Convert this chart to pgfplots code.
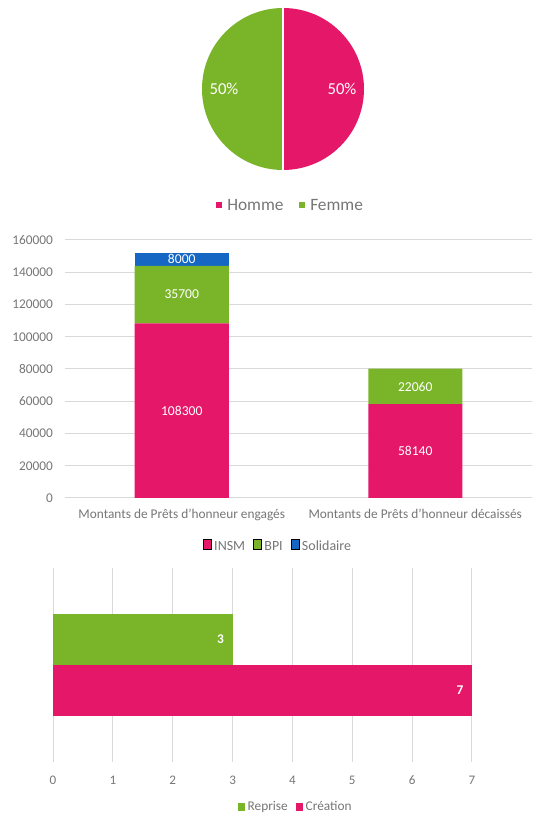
\documentclass[border=0pt]{standalone}
\usepackage{pgfplots}
\pgfplotsset{compat=1.18}
\usepackage{fontspec}
\setmainfont{Carlito}
\definecolor{cpink}{RGB}{228,23,104}
\definecolor{cgreen}{RGB}{122,181,41}
\definecolor{cblue}{RGB}{22,102,196}
\definecolor{ctext}{RGB}{118,118,118}
\definecolor{cgrid}{RGB}{217,217,217}
\tikzset{lab/.style={text=white,font=\fontsize{10.2}{12}\selectfont}}
\pgfplotsset{
  /pgfplots/ybar legend/.style={/pgfplots/legend image code/.code={\fill[##1] (0pt,-2.9pt) rectangle (5.8pt,2.9pt);}},
  /pgfplots/xbar legend/.style={/pgfplots/legend image code/.code={\fill[##1] (0pt,-2.7pt) rectangle (5.4pt,2.7pt);}},
}
\begin{document}
\begin{tikzpicture}[x=0.75pt,y=0.75pt]
\useasboundingbox (0,0) rectangle (533,814);
% ---------------- pie (Homme 50, Femme 50) ----------------
\fill[cpink] (283,725) -- (283,806) arc[start angle=90,end angle=-90,radius=81] -- cycle;
\fill[cgreen] (283,725) -- (283,806) arc[start angle=90,end angle=270,radius=81] -- cycle;
\draw[white,line width=1.2pt] (283,806) -- (283,644);
\node[text=white,font=\fontsize{12.5}{14}\selectfont] at (224,725) {50\%};
\node[text=white,font=\fontsize{12.5}{14}\selectfont] at (342,725) {50\%};
\fill[cpink] (215.5,606) rectangle (221.5,612);
\node[anchor=west,inner sep=0pt,text=ctext,font=\fontsize{13}{15}\selectfont] at (227,609) {Homme};
\fill[cgreen] (298.5,606) rectangle (304.5,612);
\node[anchor=west,inner sep=0pt,text=ctext,font=\fontsize{13}{15}\selectfont] at (310,609) {Femme};
% ---------------- stacked bars ----------------
\begin{axis}[
  at={(48.75pt,237pt)}, anchor=south west,
  scale only axis, width=350.25pt, height=193.5pt,
  ybar stacked, bar width=70.5pt,
  xmin=-0.5, xmax=1.5, ymin=0, ymax=160000,
  xtick={0,1},
  xticklabels={Montants de Prêts d'honneur engagés, Montants de Prêts d'honneur décaissés},
  ytick={0,20000,40000,60000,80000,100000,120000,140000,160000},
  scaled y ticks=false,
  yticklabel style={/pgf/number format/fixed,/pgf/number format/1000 sep={},xshift=-5.5pt},
  xticklabel style={yshift=-4.5pt},
  /pgf/number format/assume math mode=true,
  axis line style={draw=none}, major tick style={draw=none},
  ymajorgrids, grid style={cgrid,line width=0.75pt},
  ticklabel style={font=\fontsize{10}{12}\selectfont,text=ctext},
  legend columns=3,
  legend style={at={(0.457,-0.19)},anchor=center,draw=none,fill=none,
    font=\fontsize{10.5}{12}\selectfont,text=ctext,
    /tikz/every even column/.append style={column sep=4pt}},
]
\addplot[fill=cpink,draw=none] coordinates {(0,108300) (1,58140)};
\addplot[fill=cgreen,draw=none] coordinates {(0,35700) (1,22060)};
\addplot[fill=cblue,draw=none] coordinates {(0,8000) (1,0)};
\legend{INSM,BPI,Solidaire}
\coordinate (l1) at (axis cs:0,54150);
\coordinate (l2) at (axis cs:0,126150);
\coordinate (l3) at (axis cs:0,148000);
\coordinate (l4) at (axis cs:1,29070);
\coordinate (l5) at (axis cs:1,69170);
\end{axis}
\node[lab] at (l1) {108300};
\node[lab] at (l2) {35700};
\node[lab] at (l3) {8000};
\node[lab] at (l4) {58140};
\node[lab] at (l5) {22060};
% ---------------- horizontal bars ----------------
\begin{axis}[
  at={(39.75pt,39pt)}, anchor=south west,
  scale only axis, width=314.25pt, height=145.5pt,
  xbar, bar width=38.25pt,
  xmin=0, xmax=7, ymin=-1.902, ymax=1.902,
  xtick={0,1,...,7}, ytick=\empty,
  xticklabel style={yshift=-7pt},
  /pgf/number format/assume math mode=true,
  axis line style={draw=none}, major tick style={draw=none},
  xmajorgrids, grid style={cgrid,line width=0.75pt},
  ticklabel style={font=\fontsize{9.8}{11}\selectfont,text=ctext},
  legend columns=2,
  legend style={at={(0.58,-0.232)},anchor=center,draw=none,fill=none,
    font=\fontsize{10}{11}\selectfont,text=ctext,
    /tikz/every even column/.append style={column sep=4pt}},
  nodes near coords,
  nodes near coords style={anchor=east,xshift=-3pt,text=white,font=\bfseries\fontsize{10}{12}\selectfont},
]
\addplot[fill=cgreen,draw=none,bar shift=0pt] coordinates {(3,0.5)};
\addplot[fill=cpink,draw=none,bar shift=0pt] coordinates {(7,-0.5)};
\legend{Reprise,Création}
\end{axis}
\end{tikzpicture}
\end{document}
